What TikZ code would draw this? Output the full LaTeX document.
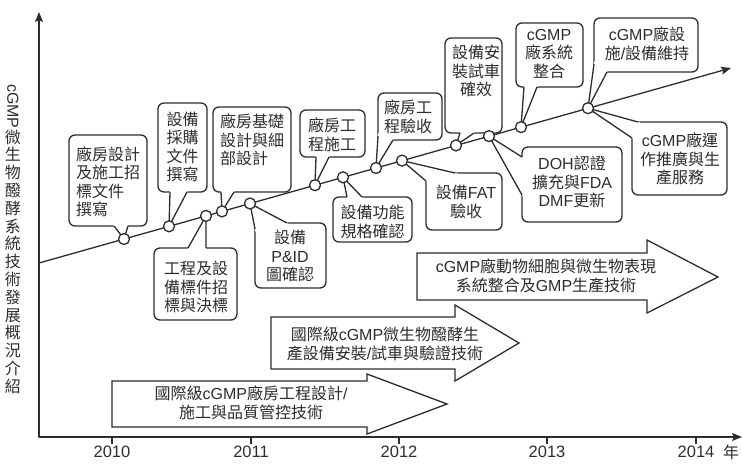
\documentclass[tikz,border=0pt]{standalone}
\usepackage{fontspec}
\setmainfont{Noto Sans CJK TC}
\newfontfamily\lat{Liberation Sans}
\usetikzlibrary{calc,arrows.meta}
\definecolor{ink}{RGB}{45,45,45}
\newcommand\wedgeto[3]{%
  \fill[white] (#1) -- ($(#2)!-3pt!(#1)$) -- ($(#3)!-3pt!(#1)$) -- cycle;
  \draw[conn] (#2) -- (#1) -- (#3);}
\begin{document}
\begin{tikzpicture}[x=1pt,y=-1pt,
  every node/.style={font=\fontsize{16}{18.5}\selectfont, text=ink, inner sep=0pt},
  conn/.style={draw=ink, line width=1.3pt, line join=round},
  box/.style={draw=ink, fill=white, line width=1.3pt, rounded corners=6pt},
  bigarrow/.style={draw=ink, fill=white, line width=1.3pt, line join=miter},
  dot/.style={circle, draw=ink, fill=white, line width=1.3pt, minimum size=11pt},
  tip/.style={-{Stealth[length=10pt,width=8pt,inset=2pt]}},
  txt/.style={align=center},
  yearlab/.style={font=\lat\fontsize{16.5}{18}\selectfont}]
\useasboundingbox (0,0) rectangle (743,466);

% axes
\draw[conn, {Stealth[length=10pt,width=8pt,inset=2pt]}-{Stealth[length=10pt,width=8pt,inset=2pt]}]
  (39,12) -- (39,437) -- (742,437);
\foreach \x/\yr in {112/2010, 251/2011, 399/2012, 547/2013, 696/2014}{
  \draw[conn] (\x,437) -- (\x,444);
  \node[yearlab] (y\yr) at (\x,452) {\yr};
}
\node (nian) at (731,452) {年};

% vertical title
\node[txt, font=\fontsize{16}{17.8}\selectfont, anchor=north] (ylab) at (13,84)
  {\rotatebox{-90}{\lat cGMP}\\微\\生\\物\\醱\\酵\\系\\統\\技\\術\\發\\展\\概\\況\\介\\紹};

% big arrows
\draw[bigarrow] (112,381) -- (367,381) -- (367,374) -- (447,404) -- (367,434) -- (367,427) -- (112,427) -- cycle;
\node[txt] (a1) at (251,403) {國際級{\lat cGMP}廠房工程設計{\lat /}\\施工與品質管控技術};
\draw[bigarrow] (271,317) -- (455,317) -- (455,305) -- (519,343) -- (455,381) -- (455,369) -- (271,369) -- cycle;
\node[txt] (a2) at (385,344) {國際級{\lat cGMP}微生物醱酵生\\產設備安裝{\lat /}試車與驗證技術};
\draw[bigarrow] (417,253) -- (647,253) -- (647,240) -- (718,277) -- (647,313) -- (647,300) -- (417,300) -- cycle;
\node[txt] (a3) at (546,276) {{\lat cGMP}廠動物細胞與微生物表現\\系統整合及{\lat GMP}生產技術};

% timeline points
\coordinate (s0) at (39,263);
\coordinate (s1) at (731,68);
\coordinate (k1) at (124,239);
\coordinate (k2) at (169,226.3);
\coordinate (k3) at (206,215.9);
\coordinate (k4) at (222,211.4);
\coordinate (k5) at (250,203.5);
\coordinate (k6) at (315,185.2);
\coordinate (k7) at (343,177.3);
\coordinate (k8) at (376,168);
\coordinate (k9) at (402,160.6);
\coordinate (k10) at (456,145.4);
\coordinate (k11) at (489,136.1);
\coordinate (k12) at (521,127.1);
\coordinate (k13) at (588,108.2);

% callout boxes
\node[box, minimum width=78pt, minimum height=91pt] (bA) at (108,180.5) {};
\node[box, minimum width=49pt, minimum height=89pt] (bB) at (182.5,147.5) {};
\node[box, minimum width=78pt, minimum height=85pt] (bC) at (252,149.5) {};
\node[box, minimum width=83pt, minimum height=72pt] (bD) at (195.5,284) {};
\node[box, minimum width=71pt, minimum height=65pt] (bE) at (290.5,255.5) {};
\node[box, minimum width=65pt, minimum height=47pt] (bF) at (332.5,133.5) {};
\node[box, minimum width=79pt, minimum height=45pt] (bG) at (372.5,219.5) {};
\node[box, minimum width=64pt, minimum height=47pt] (bH) at (410,116.5) {};
\node[box, minimum width=76pt, minimum height=57pt] (bI) at (464,201.5) {};
\node[box, minimum width=57pt, minimum height=95pt] (bJ) at (473.5,85.5) {};
\node[box, minimum width=100pt, minimum height=75pt] (bK) at (572,184.5) {};
\node[box, minimum width=67pt, minimum height=64pt] (bL) at (549.5,55) {};
\node[box, minimum width=104pt, minimum height=54pt] (bM) at (646,45) {};
\node[box, minimum width=95pt, minimum height=73pt] (bN) at (679.5,158.5) {};

% wedge base points
\coordinate (pA1) at (114,226); \coordinate (pA2) at (128,226);
\coordinate (pB1) at (170,192); \coordinate (pB2) at (187,192);
\coordinate (pC1) at (221,192); \coordinate (pC2) at (234,192);
\coordinate (pD1) at (188,248); \coordinate (pD2) at (206,248);
\coordinate (pE1) at (255,229); \coordinate (pE2) at (287,223);
\coordinate (pF1) at (316,157); \coordinate (pF2) at (329,157);
\coordinate (pG1) at (347,197); \coordinate (pG2) at (362,197);
\coordinate (pH1) at (378,136); \coordinate (pH2) at (393,140);
\coordinate (pI1) at (426,181); \coordinate (pI2) at (455,173);
\coordinate (pJ1) at (460,133); \coordinate (pJ2) at (474,133);
\coordinate (pK1) at (522,157); \coordinate (pK2) at (522,195);
\coordinate (pL1) at (524,87);  \coordinate (pL2) at (537,87);
\coordinate (pM1) at (594,64);  \coordinate (pM2) at (607,72);
\coordinate (pN1) at (638,122); \coordinate (pN2) at (632,138);

\wedgeto{k1}{pA1}{pA2}
\wedgeto{k2}{pB1}{pB2}
\wedgeto{k4}{pC1}{pC2}
\wedgeto{k3}{pD1}{pD2}
\wedgeto{k5}{pE1}{pE2}
\wedgeto{k6}{pF1}{pF2}
\wedgeto{k7}{pG1}{pG2}
\wedgeto{k8}{pH1}{pH2}
\wedgeto{k9}{pI1}{pI2}
\wedgeto{k10}{pJ1}{pJ2}
\wedgeto{k11}{pK1}{pK2}
\wedgeto{k12}{pL1}{pL2}
\wedgeto{k13}{pM1}{pM2}
\wedgeto{k13}{pN1}{pN2}

% callout texts
\node[align=left] (tA) at (108,182) {廠房設計\\及施工招\\標文件\\撰寫};
\node[txt] (tB) at (182.5,147) {設備\\採購\\文件\\撰寫};
\node[align=left] (tC) at (252,140) {廠房基礎\\設計與細\\部設計};
\node[txt] (tD) at (196,287) {工程及設\\備標件招\\標與決標};
\node[txt] (tE) at (290,256) {設備\\{\lat P\&ID}\\圖確認};
\node[txt] (tF) at (332,135) {廠房工\\程施工};
\node[txt] (tG) at (372.5,222) {設備功能\\規格確認};
\node[txt] (tH) at (408,117) {廠房工\\程驗收};
\node[txt] (tI) at (466,202) {設備{\lat FAT}\\驗收};
\node[txt] (tJ) at (476,71) {設備安\\裝試車\\確效};
\node[txt] (tK) at (572,182) {{\lat DOH}認證\\擴充與{\lat FDA}\\{\lat DMF}更新};
\node[txt] (tL) at (549,54) {{\lat cGMP}\\廠系統\\整合};
\node[txt] (tM) at (647,44) {{\lat cGMP}廠設\\施{\lat /}設備維持};
\node[txt] (tN) at (680,159) {{\lat cGMP}廠運\\作推廣與生\\產服務};

% timeline
\draw[conn, tip] (s0) -- (s1);
\foreach \i in {1,...,13}{ \node[dot] (c\i) at (k\i) {}; }
\end{tikzpicture}
\end{document}
